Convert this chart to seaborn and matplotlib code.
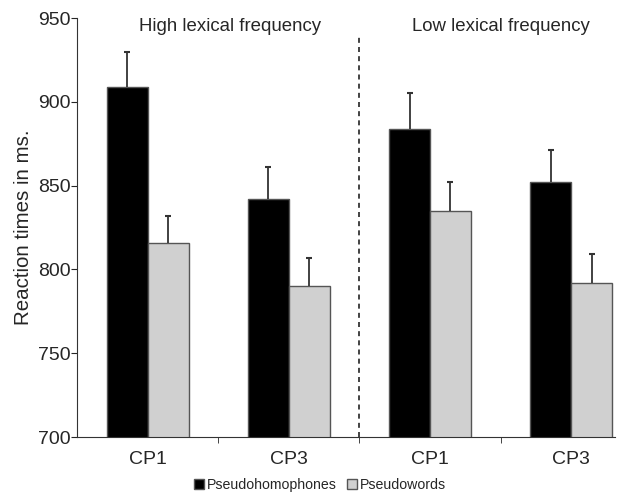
import matplotlib
matplotlib.use('Agg')
import matplotlib.pyplot as plt
import pandas as pd
import numpy as np
import seaborn as sns

# Valores (tempos de reação em ms)
grupos = ['CP1', 'CP3', 'CP1 ', 'CP3 ']
rotulos_x = ['CP1', 'CP3', 'CP1', 'CP3']
pseudohomofonos = [909, 842, 884, 852]
pseudopalavras = [816, 790, 835, 792]
erro_pseudohomofonos = [21, 19, 21, 19]
erro_pseudopalavras = [16, 17, 17, 17]
titulos = ['High lexical frequency', 'Low lexical frequency']

sns.set_style('ticks')
plt.rcParams['font.family'] = ['Liberation Sans', 'DejaVu Sans']

# Montando o DataFrame no formato longo
dados = pd.DataFrame({
    'grupo': grupos * 2,
    'tempo': pseudohomofonos + pseudopalavras,
    'erro': erro_pseudohomofonos + erro_pseudopalavras,
    'tipo': ['Pseudohomophones'] * 4 + ['Pseudowords'] * 4,
})

fig = plt.figure(figsize=(6.4, 4.94), dpi=100)
ax = fig.add_axes([77 / 640, 57 / 494, 538 / 640, 419 / 494])

sns.barplot(data=dados, x='grupo', y='tempo', hue='tipo', order=grupos,
            palette=['black', '#d0d0d0'], width=0.58, errorbar=None,
            edgecolor='#555555', linewidth=1, ax=ax)

# Barras de erro só para cima (linha + traço no topo)
barras = [p for p in ax.patches if p.get_height() > 0][:8]
for barra, erro in zip(barras, dados['erro']):
    xc = barra.get_x() + barra.get_width() / 2
    topo = barra.get_y() + barra.get_height()
    ax.vlines(xc, topo, topo + erro, color='#333333', lw=1.3)
    ax.plot(xc, topo + erro, marker='_', ms=5, mew=1.5, color='#333333')

ax.set_ylim(700, 950)
ax.set_xlim(-0.5, 3.31)
ax.set_yticks(np.arange(700, 951, 50))
ax.set_xticks(range(4))
ax.set_xticklabels(rotulos_x, fontsize=14)
ax.set_xticks([0.5, 1.5, 2.5], minor=True)
ax.tick_params(axis='x', which='major', length=0, pad=10)
ax.tick_params(axis='x', which='minor', length=4, direction='out')
ax.tick_params(axis='y', labelsize=14, length=4, pad=0.5)
ax.set_xlabel('')
ax.set_ylabel('Reaction times in ms.', fontsize=14.8)
ax.yaxis.set_label_coords(-0.082, 0.5)
sns.despine(ax=ax)
for s in ['left', 'bottom']:
    ax.spines[s].set_color('#333333')

# Linha tracejada separando as frequências
ax.plot([1.5, 1.5], [700, 940], ls=(0, (3, 2.5)), color='#222222', lw=1.2,
        clip_on=False)
ax.text(0.585, 945, titulos[0], ha='center', va='center', fontsize=13.4)
ax.text(2.5, 945, titulos[1], ha='center', va='center', fontsize=13.4)

handles, labels = ax.get_legend_handles_labels()
ax.get_legend().remove()
fig.legend(handles, labels, loc='center', bbox_to_anchor=(0.5, 0.018),
           ncol=2, frameon=False, fontsize=10.2, handlelength=0.7,
           handleheight=0.7, handletextpad=0.2, columnspacing=0.7,
           borderpad=0)

fig.savefig('out.png', dpi=100)
